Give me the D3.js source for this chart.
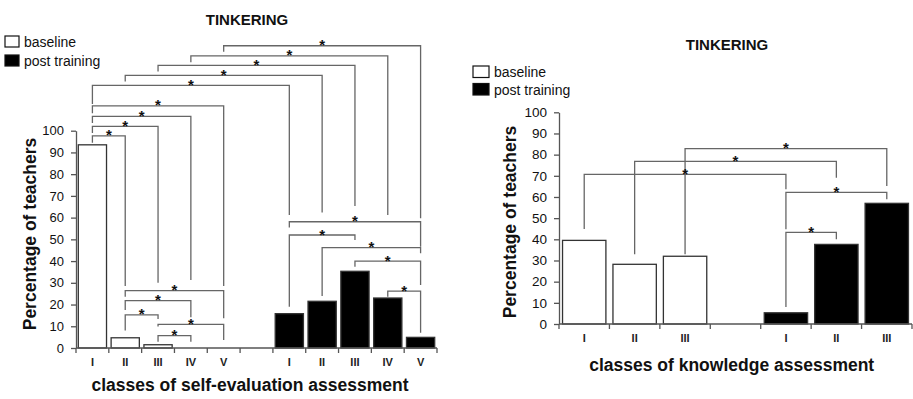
<!DOCTYPE html>
<html>
<head>
<meta charset="utf-8">
<script src="https://cdn.jsdelivr.net/npm/d3@7"></script>
<style>
  body{margin:0;background:#fff;}
  svg{display:block;font-family:"Liberation Sans",Arial,sans-serif;}
</style>
</head>
<body>
<svg id="display" width="913" height="399"></svg>
<script>
// data: percentage of teachers per class
const selfClasses=["I","II","III","IV","V"];
const selfBaseline=[93.5,4.7,1.5,0,0];
const selfPost=[15.8,21.5,35.3,23.0,4.9];

const knowClasses=["I","II","III"];
const knowBaseline=[39.5,28.2,32.0];
const knowPost=[5.3,37.6,57.0];

const yTickValues=[0,10,20,30,40,50,60,70,80,90,100];
const legendLabels=["baseline","post training"];

// significance brackets: [from series, from class, to series, to class, level, left leg end, right leg end] (percent units)
const selfBrackets=[
    ["b","V","p","V",139.1,136.3,59.7],
    ["b","IV","p","IV",134.4,131.5,61.2],
    ["b","III","p","III",130.1,127.2,65.3],
    ["b","II","p","II",125.5,122.6,62.3],
    ["b","I","p","I",120.9,112.3,61.2],
    ["b","I","b","V",111.4,108.0,28.5],
    ["b","I","b","IV",106.6,103.5,31.3],
    ["b","I","b","III",102.0,98.9,30.0],
    ["b","I","b","II",97.6,94.5,28.5],
    ["b","II","b","V",26.4,23.6,13.7],
    ["b","II","b","IV",21.8,17.5,14.1],
    ["b","II","b","III",15.2,8.0,13.3],
    ["b","III","b","V",10.9,9.9,3.7],
    ["b","III","b","IV",5.7,2.9,2.9],
    ["p","I","p","V",58.1,55.5,46.6],
    ["p","I","p","III",52.0,19.0,49.7],
    ["p","II","p","V",46.2,23.9,43.6],
    ["p","III","p","V",40.0,37.4,29.0],
    ["p","IV","p","V",26.2,23.6,7.0]
];
const knowBrackets=[
    ["b","III","p","III",82.8,32.9,65.2],
    ["b","II","p","II",76.8,32.9,69.1],
    ["b","I","p","I",70.7,44.9,63.6],
    ["p","I","p","III",62.2,44.7,58.9],
    ["p","I","p","II",43.3,8.0,40.0]
];

const display=d3.select("#display");

function draw_panel(opt){
    const g=display.append("g");
    const keys=opt.classes.map(c=>"b_"+c).concat(["gap"],opt.classes.map(c=>"p_"+c));
    const x=d3.scaleBand().domain(keys).range([opt.x0,opt.x1]).padding(0);
    const y=d3.scaleLinear().domain([0,100]).range([opt.y0,opt.y100]);
    const bw=x.bandwidth();
    const cx=k=>x(k)+bw/2;

    // bars
    const bars=opt.classes.map((c,i)=>({key:"b_"+c,v:opt.baseline[i],fill:"#fff"}))
        .concat(opt.classes.map((c,i)=>({key:"p_"+c,v:opt.post[i],fill:"#000"})));
    g.selectAll("rect.bar").data(bars.filter(d=>d.v>0)).join("rect")
        .attr("class","bar")
        .attr("x",d=>x(d.key)+bw*opt.pad)
        .attr("width",bw*(1-2*opt.pad))
        .attr("y",d=>y(d.v))
        .attr("height",d=>y(0)-y(d.v))
        .attr("fill",d=>d.fill)
        .attr("stroke","#333")
        .attr("stroke-width",1.3);

    // y axis
    const yAxis=g.append("g")
        .attr("transform","translate("+opt.x0+",0)")
        .call(d3.axisLeft(y).tickValues(yTickValues).tickSize(5).tickSizeOuter(0).tickPadding(opt.tickPad))
        .attr("font-size",opt.tickFont)
        .attr("font-family","'Liberation Sans',Arial,sans-serif");
    yAxis.select(".domain").attr("stroke","#555").attr("stroke-width",1.3);
    yAxis.selectAll(".tick line").attr("stroke","#555").attr("stroke-width",1.3);
    yAxis.selectAll(".tick text").attr("fill","#111");

    // x axis
    g.append("line")
        .attr("x1",opt.x0).attr("x2",opt.x1)
        .attr("y1",y(0)).attr("y2",y(0))
        .attr("stroke","#555").attr("stroke-width",1.3);
    const bounds=keys.map(k=>x(k)).concat([opt.x1]);
    g.selectAll("line.xtick").data(bounds).join("line")
        .attr("class","xtick")
        .attr("x1",d=>d).attr("x2",d=>d)
        .attr("y1",y(0)).attr("y2",y(0)+5)
        .attr("stroke","#555").attr("stroke-width",1.3);
    g.selectAll("text.xlab").data(keys.filter(k=>k!=="gap")).join("text")
        .attr("class","xlab")
        .attr("x",d=>cx(d))
        .attr("y",opt.romanY)
        .attr("text-anchor","middle")
        .style("font-size","11px")
        .style("font-weight","bold")
        .attr("fill","#222")
        .text(d=>d.split("_")[1]);

    // brackets
    for (const b of opt.brackets){
        const xl=cx(b[0]+"_"+b[1]);
        const xr=cx(b[2]+"_"+b[3]);
        const yl=y(b[4]);
        g.append("path")
            .attr("d","M"+xl+","+y(b[5])+"V"+yl+"H"+xr+"V"+y(b[6]))
            .attr("fill","none")
            .attr("stroke","#666")
            .attr("stroke-width",1.3);
        g.append("text")
            .attr("x",(xl+xr)/2)
            .attr("y",yl+4.5)
            .attr("text-anchor","middle")
            .style("font-size","15px")
            .style("font-weight","bold")
            .attr("fill","#111")
            .text("*");
    }

    // title
    g.append("text")
        .attr("x",opt.titleX).attr("y",opt.titleY)
        .attr("text-anchor","middle")
        .style("font-size","15px").style("font-weight","bold")
        .attr("fill","#111")
        .text("TINKERING");

    // legend
    legendLabels.forEach((lab,i)=>{
        g.append("rect")
            .attr("x",opt.legX).attr("y",opt.legY+i*opt.legGap)
            .attr("width",opt.legW).attr("height",opt.legH)
            .attr("fill",i===0?"#fff":"#000")
            .attr("stroke","#111").attr("stroke-width",1.2);
        g.append("text")
            .attr("x",opt.legX+opt.legW+5)
            .attr("y",opt.legY+i*opt.legGap+opt.legH-0.5)
            .style("font-size","14px")
            .attr("fill","#111")
            .text(lab);
    });

    // axis titles
    g.append("text")
        .attr("transform","translate("+opt.yLabX+","+opt.yLabY+") rotate(-90)")
        .attr("text-anchor","middle")
        .attr("dominant-baseline","central")
        .style("font-size","17.5px").style("font-weight","bold")
        .attr("fill","#111")
        .text("Percentage of teachers");
    g.append("text")
        .attr("x",opt.xLabX).attr("y",opt.xLabY)
        .attr("text-anchor","middle")
        .style("font-size","17.5px").style("font-weight","bold")
        .attr("fill","#111")
        .text(opt.xTitle);
}

draw_panel({
    classes:selfClasses,baseline:selfBaseline,post:selfPost,brackets:selfBrackets,
    x0:76,x1:437,y0:348,y100:130.7,pad:0.07,tickPad:7,tickFont:13,romanY:366,
    titleX:247,titleY:24.5,
    legX:5,legY:36,legW:14,legH:11,legGap:19,
    yLabX:30,yLabY:234,xLabX:250,xLabY:391,
    xTitle:"classes of self-evaluation assessment"
});

draw_panel({
    classes:knowClasses,baseline:knowBaseline,post:knowPost,brackets:knowBrackets,
    x0:559,x1:912,y0:324,y100:112.3,pad:0.07,tickPad:7,tickFont:13.5,romanY:342,
    titleX:727,titleY:49.5,
    legX:473,legY:66,legW:16,legH:11.5,legGap:17.5,
    yLabX:510,yLabY:222,xLabX:731.7,xLabY:371,
    xTitle:"classes of knowledge assessment"
});
</script>
</body>
</html>
